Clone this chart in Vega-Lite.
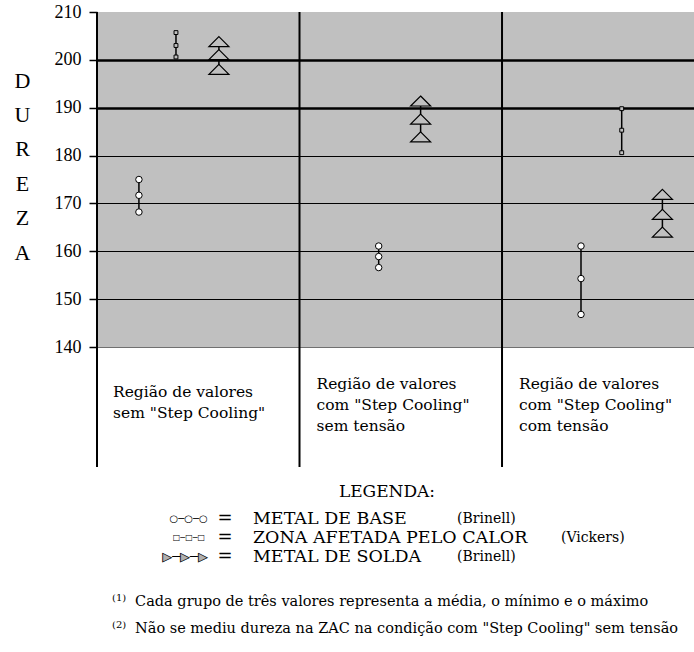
{
  "$schema": "https://vega.github.io/schema/vega-lite/v6.json",
  "width": 597,
  "height": 335,
  "autosize": "none",
  "padding": {"left": 97, "top": 12, "right": 0, "bottom": 305},
  "background": "white",
  "config": {"view": {"fill": "#c0c0c0", "stroke": null}},
  "datasets": {
    "medidas": [
      {"regiao": "sem Step Cooling", "material": "METAL DE BASE", "x": 0.207, "dureza": 175.0},
      {"regiao": "sem Step Cooling", "material": "METAL DE BASE", "x": 0.207, "dureza": 171.7},
      {"regiao": "sem Step Cooling", "material": "METAL DE BASE", "x": 0.207, "dureza": 168.2},
      {"regiao": "sem Step Cooling", "material": "ZONA AFETADA PELO CALOR", "x": 0.39, "dureza": 205.7},
      {"regiao": "sem Step Cooling", "material": "ZONA AFETADA PELO CALOR", "x": 0.39, "dureza": 203.0},
      {"regiao": "sem Step Cooling", "material": "ZONA AFETADA PELO CALOR", "x": 0.39, "dureza": 200.6},
      {"regiao": "sem Step Cooling", "material": "METAL DE SOLDA", "x": 0.602, "dureza": 203.8},
      {"regiao": "sem Step Cooling", "material": "METAL DE SOLDA", "x": 0.602, "dureza": 201.1},
      {"regiao": "sem Step Cooling", "material": "METAL DE SOLDA", "x": 0.602, "dureza": 198.0},
      {"regiao": "com Step Cooling sem tensão", "material": "METAL DE BASE", "x": 1.391, "dureza": 161.1},
      {"regiao": "com Step Cooling sem tensão", "material": "METAL DE BASE", "x": 1.391, "dureza": 158.9},
      {"regiao": "com Step Cooling sem tensão", "material": "METAL DE BASE", "x": 1.391, "dureza": 156.6},
      {"regiao": "com Step Cooling sem tensão", "material": "METAL DE SOLDA", "x": 1.598, "dureza": 191.4},
      {"regiao": "com Step Cooling sem tensão", "material": "METAL DE SOLDA", "x": 1.598, "dureza": 187.6},
      {"regiao": "com Step Cooling sem tensão", "material": "METAL DE SOLDA", "x": 1.598, "dureza": 183.9},
      {"regiao": "com Step Cooling com tensão", "material": "METAL DE BASE", "x": 2.39, "dureza": 161.1},
      {"regiao": "com Step Cooling com tensão", "material": "METAL DE BASE", "x": 2.39, "dureza": 154.3},
      {"regiao": "com Step Cooling com tensão", "material": "METAL DE BASE", "x": 2.39, "dureza": 146.8},
      {"regiao": "com Step Cooling com tensão", "material": "ZONA AFETADA PELO CALOR", "x": 2.591, "dureza": 189.8},
      {"regiao": "com Step Cooling com tensão", "material": "ZONA AFETADA PELO CALOR", "x": 2.591, "dureza": 185.3},
      {"regiao": "com Step Cooling com tensão", "material": "ZONA AFETADA PELO CALOR", "x": 2.591, "dureza": 180.6},
      {"regiao": "com Step Cooling com tensão", "material": "METAL DE SOLDA", "x": 2.792, "dureza": 171.9},
      {"regiao": "com Step Cooling com tensão", "material": "METAL DE SOLDA", "x": 2.792, "dureza": 167.7},
      {"regiao": "com Step Cooling com tensão", "material": "METAL DE SOLDA", "x": 2.792, "dureza": 164.0}
    ],
    "regioes": [
      {"inicio": 0, "rotulo": "Região de valores\nsem \"Step Cooling\""},
      {"inicio": 1, "rotulo": "Região de valores\ncom \"Step Cooling\"\nsem tensão"},
      {"inicio": 2, "rotulo": "Região de valores\ncom \"Step Cooling\"\ncom tensão"}
    ]
  },
  "layer": [
    {
      "data": {"name": "medidas"},
      "mark": {"type": "line", "color": "black", "strokeWidth": 1.5},
      "encoding": {
        "x": {"field": "x", "type": "quantitative", "scale": {"domain": [0, 2.948], "zero": false, "nice": false}, "axis": null},
        "y": {
          "field": "dureza", "type": "quantitative",
          "scale": {"domain": [140, 210], "zero": false, "nice": false},
          "axis": {
            "values": [140, 150, 160, 170, 180, 190, 200, 210],
            "domain": false,
            "grid": true,
            "gridColor": {"condition": {"test": "datum.value === 140", "value": "#707070"}, "value": "black"},
            "gridWidth": {"condition": {"test": "datum.value >= 190", "value": 2.5}, "value": 1.2},
            "gridOpacity": {"condition": {"test": "datum.value === 210", "value": 0}, "value": 1},
            "ticks": true, "tickSize": 8, "tickColor": "black", "tickWidth": 1.5,
            "labelFont": "Liberation Serif", "labelFontSize": 18, "labelColor": "black", "labelPadding": 8,
            "title": ["D", "U", "R", "E", "Z", "A"],
            "titleAngle": 0, "titleFont": "Liberation Serif", "titleFontSize": 22, "titleFontWeight": "normal",
            "titleColor": "black", "titleLineHeight": 34.4, "titleX": -75, "titleY": 68,
            "titleAlign": "center", "titleBaseline": "middle"
          }
        },
        "detail": [{"field": "regiao"}, {"field": "material"}],
        "order": {"field": "dureza", "type": "quantitative"}
      }
    },
    {
      "data": {"name": "medidas"},
      "transform": [{"filter": "datum.material === 'METAL DE BASE'"}],
      "mark": {"type": "point", "shape": "circle", "size": 42, "filled": true, "fill": "white", "stroke": "black", "strokeWidth": 1, "opacity": 1},
      "encoding": {
        "x": {"field": "x", "type": "quantitative", "scale": {"domain": [0, 2.948], "zero": false, "nice": false}, "axis": null},
        "y": {"field": "dureza", "type": "quantitative", "scale": {"domain": [140, 210], "zero": false, "nice": false}}
      }
    },
    {
      "data": {"name": "medidas"},
      "transform": [{"filter": "datum.material === 'ZONA AFETADA PELO CALOR'"}],
      "mark": {"type": "point", "shape": "square", "size": 15, "filled": true, "fill": "#c0c0c0", "stroke": "black", "strokeWidth": 1, "opacity": 1},
      "encoding": {
        "x": {"field": "x", "type": "quantitative", "scale": {"domain": [0, 2.948], "zero": false, "nice": false}, "axis": null},
        "y": {"field": "dureza", "type": "quantitative", "scale": {"domain": [140, 210], "zero": false, "nice": false}}
      }
    },
    {
      "data": {"name": "medidas"},
      "transform": [{"filter": "datum.material === 'METAL DE SOLDA'"}],
      "mark": {"type": "point", "shape": "M0,-0.5L1,0.5L-1,0.5Z", "size": 400, "filled": true, "fill": "#c0c0c0", "stroke": "black", "strokeWidth": 1.2, "opacity": 1},
      "encoding": {
        "x": {"field": "x", "type": "quantitative", "scale": {"domain": [0, 2.948], "zero": false, "nice": false}, "axis": null},
        "y": {"field": "dureza", "type": "quantitative", "scale": {"domain": [140, 210], "zero": false, "nice": false}}
      }
    },
    {
      "data": {"name": "regioes"},
      "mark": {"type": "rule", "color": "black", "strokeWidth": 2},
      "encoding": {
        "x": {"field": "inicio", "type": "quantitative", "scale": {"domain": [0, 2.948], "zero": false, "nice": false}, "axis": null},
        "y": {"datum": 210, "type": "quantitative", "scale": {"domain": [140, 210], "zero": false, "nice": false}},
        "y2": {"datum": 114.9}
      }
    },
    {
      "data": {"name": "regioes"},
      "transform": [{"filter": "datum.inicio === 0"}],
      "mark": {"type": "text", "align": "left", "baseline": "middle", "font": "DejaVu Serif", "fontSize": 15.5, "lineHeight": 21, "lineBreak": "\n", "dx": 16, "color": "black"},
      "encoding": {
        "x": {"field": "inicio", "type": "quantitative", "scale": {"domain": [0, 2.948], "zero": false, "nice": false}, "axis": null},
        "y": {"datum": 130.6, "type": "quantitative", "scale": {"domain": [140, 210], "zero": false, "nice": false}},
        "text": {"field": "rotulo"}
      }
    },
    {
      "data": {"name": "regioes"},
      "transform": [{"filter": "datum.inicio > 0"}],
      "mark": {"type": "text", "align": "left", "baseline": "middle", "font": "DejaVu Serif", "fontSize": 15.5, "lineHeight": 21, "lineBreak": "\n", "dx": 17, "color": "black"},
      "encoding": {
        "x": {"field": "inicio", "type": "quantitative", "scale": {"domain": [0, 2.948], "zero": false, "nice": false}, "axis": null},
        "y": {"datum": 132.3, "type": "quantitative", "scale": {"domain": [140, 210], "zero": false, "nice": false}},
        "text": {"field": "rotulo"}
      }
    },
    {
      "data": {"values": [{}]},
      "mark": {"type": "text", "text": "LEGENDA:", "align": "center", "baseline": "middle", "font": "DejaVu Serif", "fontSize": 17, "color": "black"},
      "encoding": {
        "x": {"datum": 1.432, "type": "quantitative", "scale": {"domain": [0, 2.948], "zero": false, "nice": false}, "axis": null},
        "y": {"datum": 109.7, "type": "quantitative", "scale": {"domain": [140, 210], "zero": false, "nice": false}}
      }
    },
    {
      "data": {"values": [{}]},
      "mark": {"type": "text", "text": "=\n=\n=", "lineBreak": "\n", "lineHeight": 19, "align": "center", "baseline": "middle", "font": "DejaVu Serif", "fontSize": 18, "color": "black"},
      "encoding": {
        "x": {"datum": 0.632, "type": "quantitative", "scale": {"domain": [0, 2.948], "zero": false, "nice": false}, "axis": null},
        "y": {"datum": 104.06, "type": "quantitative", "scale": {"domain": [140, 210], "zero": false, "nice": false}}
      }
    },
    {
      "data": {"values": [{}]},
      "mark": {"type": "text", "text": "METAL DE BASE\nZONA AFETADA PELO CALOR\nMETAL DE SOLDA", "lineBreak": "\n", "lineHeight": 19, "align": "left", "baseline": "middle", "font": "DejaVu Serif", "fontSize": 17.5, "color": "black"},
      "encoding": {
        "x": {"datum": 0.77, "type": "quantitative", "scale": {"domain": [0, 2.948], "zero": false, "nice": false}, "axis": null},
        "y": {"datum": 104.06, "type": "quantitative", "scale": {"domain": [140, 210], "zero": false, "nice": false}}
      }
    },
    {
      "data": {"values": [{}]},
      "mark": {"type": "text", "text": "(Brinell)", "align": "left", "baseline": "middle", "font": "DejaVu Serif", "fontSize": 14, "color": "black"},
      "encoding": {
        "x": {"datum": 1.778, "type": "quantitative", "scale": {"domain": [0, 2.948], "zero": false, "nice": false}, "axis": null},
        "y": {"datum": 104.06, "type": "quantitative", "scale": {"domain": [140, 210], "zero": false, "nice": false}}
      }
    },
    {
      "data": {"values": [{}]},
      "mark": {"type": "text", "text": "(Vickers)", "align": "left", "baseline": "middle", "font": "DejaVu Serif", "fontSize": 14, "color": "black"},
      "encoding": {
        "x": {"datum": 2.291, "type": "quantitative", "scale": {"domain": [0, 2.948], "zero": false, "nice": false}, "axis": null},
        "y": {"datum": 100.1, "type": "quantitative", "scale": {"domain": [140, 210], "zero": false, "nice": false}}
      }
    },
    {
      "data": {"values": [{}]},
      "mark": {"type": "text", "text": "(Brinell)", "align": "left", "baseline": "middle", "font": "DejaVu Serif", "fontSize": 14, "color": "black"},
      "encoding": {
        "x": {"datum": 1.778, "type": "quantitative", "scale": {"domain": [0, 2.948], "zero": false, "nice": false}, "axis": null},
        "y": {"datum": 96.1, "type": "quantitative", "scale": {"domain": [140, 210], "zero": false, "nice": false}}
      }
    },
    {
      "data": {"values": [{}]},
      "mark": {"type": "text", "text": "○─○─○", "align": "center", "baseline": "middle", "font": "DejaVu Sans", "fontSize": 10, "color": "black"},
      "encoding": {
        "x": {"datum": 0.452, "type": "quantitative", "scale": {"domain": [0, 2.948], "zero": false, "nice": false}, "axis": null},
        "y": {"datum": 104.06, "type": "quantitative", "scale": {"domain": [140, 210], "zero": false, "nice": false}}
      }
    },
    {
      "data": {"values": [{}]},
      "mark": {"type": "text", "text": "□─□─□", "align": "center", "baseline": "middle", "font": "DejaVu Sans", "fontSize": 8, "color": "black"},
      "encoding": {
        "x": {"datum": 0.454, "type": "quantitative", "scale": {"domain": [0, 2.948], "zero": false, "nice": false}, "axis": null},
        "y": {"datum": 100.1, "type": "quantitative", "scale": {"domain": [140, 210], "zero": false, "nice": false}}
      }
    },
    {
      "data": {"values": [{}]},
      "mark": {"type": "text", "text": "▶─▶─▶", "align": "center", "baseline": "middle", "font": "DejaVu Sans", "fontSize": 13, "color": "#b0b0b0"},
      "encoding": {
        "x": {"datum": 0.435, "type": "quantitative", "scale": {"domain": [0, 2.948], "zero": false, "nice": false}, "axis": null},
        "y": {"datum": 96.1, "type": "quantitative", "scale": {"domain": [140, 210], "zero": false, "nice": false}}
      }
    },
    {
      "data": {"values": [{}]},
      "mark": {"type": "text", "text": "▷─▷─▷", "align": "center", "baseline": "middle", "font": "DejaVu Sans", "fontSize": 13, "color": "black"},
      "encoding": {
        "x": {"datum": 0.435, "type": "quantitative", "scale": {"domain": [0, 2.948], "zero": false, "nice": false}, "axis": null},
        "y": {"datum": 96.1, "type": "quantitative", "scale": {"domain": [140, 210], "zero": false, "nice": false}}
      }
    },
    {
      "data": {"values": [{}]},
      "mark": {"type": "text", "text": "(1)\n(2)", "lineBreak": "\n", "lineHeight": 27, "align": "left", "baseline": "middle", "font": "DejaVu Serif", "fontSize": 10, "color": "black"},
      "encoding": {
        "x": {"datum": 0.074, "type": "quantitative", "scale": {"domain": [0, 2.948], "zero": false, "nice": false}, "axis": null},
        "y": {"datum": 87.55, "type": "quantitative", "scale": {"domain": [140, 210], "zero": false, "nice": false}}
      }
    },
    {
      "data": {"values": [{}]},
      "mark": {"type": "text", "text": "Cada grupo de três valores representa a média, o mínimo e o máximo\nNão se mediu dureza na ZAC na condição com \"Step Cooling\" sem tensão", "lineBreak": "\n", "lineHeight": 27, "align": "left", "baseline": "middle", "font": "DejaVu Serif", "fontSize": 14.5, "color": "black"},
      "encoding": {
        "x": {"datum": 0.188, "type": "quantitative", "scale": {"domain": [0, 2.948], "zero": false, "nice": false}, "axis": null},
        "y": {"datum": 86.7, "type": "quantitative", "scale": {"domain": [140, 210], "zero": false, "nice": false}}
      }
    }
  ]
}
